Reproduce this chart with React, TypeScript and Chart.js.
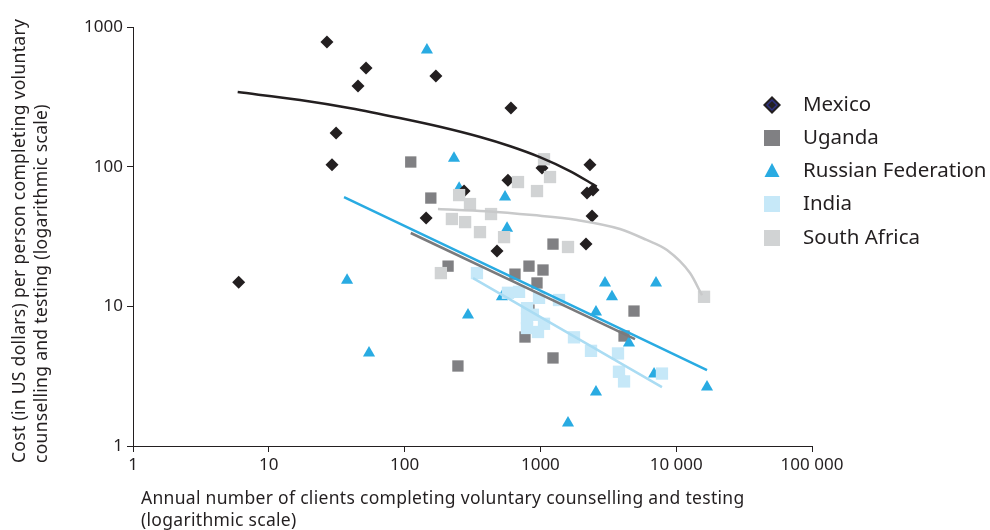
import React, { useEffect, useRef } from "react";
import { Chart, registerables } from "chart.js";

Chart.register(...registerables);

// ---------- data ----------
const xTickValues = [1, 10, 100, 1000, 10000, 100000];
const xTickLabels = ["1", "10", "100", "1000", "10 000", "100 000"];
const yTickValues = [1, 10, 100, 1000];
const yTickLabels = ["1", "10", "100", "1000"];

const seriesNames = ["Mexico", "Uganda", "Russian Federation", "India", "South Africa"];

const mexicoClients = [26.8, 52, 45.4, 170, 31.3, 29.2, 6.0, 607, 2317, 1028, 577, 2203, 2440, 274, 144, 2400, 479, 2167];
const mexicoCost = [780, 508, 378, 445, 174, 103, 14.9, 263, 103, 97.7, 80, 64.7, 68, 66.9, 42.9, 44.3, 24.9, 27.9];

const ugandaClients = [111, 156, 209, 247, 1238, 824, 1045, 650, 944, 824, 770, 1238, 4890, 4130];
const ugandaCost = [108, 59.6, 19.4, 3.74, 27.9, 19.4, 18.2, 17.0, 14.7, 9.4, 6.03, 4.27, 9.25, 6.13];

const russiaClients = [146, 231, 252, 549, 568, 37.7, 54.7, 293, 521, 2990, 7100, 3366, 2566, 4490, 6870, 16860, 2566, 1597, 3855];
const russiaCost = [684, 115, 70, 60.6, 36.3, 15.4, 4.63, 8.67, 11.7, 14.7, 14.7, 11.7, 9.1, 5.46, 3.28, 2.64, 2.44, 1.46, 3.3];

const indiaClients = [341, 577, 696, 977, 1371, 797, 797, 797, 881, 1063, 960, 1767, 2358, 3727, 3790, 4130, 7855];
const indiaCost = [17.3, 12.5, 12.7, 11.5, 11.1, 9.7, 8.2, 7.0, 8.7, 7.5, 6.55, 6.0, 4.8, 4.6, 3.4, 2.9, 3.3];

const southAfricaClients = [1063, 1177, 684, 944, 252, 303, 433, 223, 279, 359, 540, 1597, 185, 16030];
const southAfricaCost = [113, 84.3, 77.6, 66.9, 62.6, 54, 45.8, 42.2, 40.1, 34.0, 31.3, 26.6, 17.3, 11.7];

// trend lines
const mexicoTrendClients = [5.9, 17, 40, 92, 182, 360, 600, 990, 1650, 2600];
const mexicoTrendCost = [342, 300, 262, 223, 193, 163, 140, 117, 93, 72];

const southAfricaTrendClients = [176, 400, 881, 1862, 3855, 6000, 8555, 12640, 15490];
const southAfricaTrendCost = [49.7, 48, 45, 41.5, 35.8, 30, 25.3, 17.3, 12];

const russiaTrendClients = [35.8, 16860];
const russiaTrendCost = [60.6, 3.5];

const ugandaTrendClients = [111, 4975];
const ugandaTrendCost = [33.5, 5.83];

const indiaTrendClients = [319, 7855];
const indiaTrendCost = [15.9, 2.64];

const xTitleLines = [
  "Annual number of clients completing voluntary counselling and testing",
  "(logarithmic scale)",
];
const yTitleLines = [
  "Cost (in US dollars) per person completing voluntary",
  "counselling and testing (logarithmic scale)",
];

// ---------- styles ----------
const FONT = "'Noto Sans', 'Open Sans', sans-serif";
const TEXT = "#231f20";
const C_MEX = "#231f20";
const C_UGA = "#808083";
const C_RUS = "#29abe2";
const C_IND = "#c6e8f8";
const C_SA = "#d1d3d4";
const L_SA = "#c8c9ca";
const L_IND = "#aadcf3";
const L_UGA = "#7a7a7c";

const zip = (xs: number[], ys: number[]) => xs.map((x, i) => ({ x, y: ys[i] }));

const drawDiamond = (ctx: CanvasRenderingContext2D, x: number, y: number, r: number) => {
  ctx.beginPath();
  ctx.moveTo(x, y - r);
  ctx.lineTo(x + r, y);
  ctx.lineTo(x, y + r);
  ctx.lineTo(x - r, y);
  ctx.closePath();
};

const overlayPlugin = {
  id: "overlay",
  afterDraw(chart: any) {
    const ctx: any = chart.ctx;
    ctx.save();
    ctx.fillStyle = TEXT;
    ctx.font = `17.5px ${FONT}`;
    ctx.letterSpacing = "0.3px";
    ctx.textAlign = "left";
    ctx.textBaseline = "middle";
    xTitleLines.forEach((l, i) => ctx.fillText(l, 141, 499 + i * 22));

    ctx.save();
    ctx.translate(20, 463);
    ctx.rotate(-Math.PI / 2);
    yTitleLines.forEach((l, i) => ctx.fillText(l, 0, i * 22));
    ctx.restore();

    // legend
    const lx = 772;
    const tx = 803;
    const rows = [105, 138, 171, 204, 238];
    ctx.letterSpacing = "0px";
    ctx.font = `20.5px ${FONT}`;
    seriesNames.forEach((name, i) => {
      const y = rows[i];
      ctx.fillStyle = TEXT;
      ctx.fillText(name, tx, y);
      if (i === 0) {
        ctx.fillStyle = C_MEX;
        drawDiamond(ctx, lx, y, 9);
        ctx.fill();
        ctx.strokeStyle = "#2e3180";
        ctx.lineWidth = 1.5;
        drawDiamond(ctx, lx, y, 5);
        ctx.stroke();
      } else if (i === 2) {
        ctx.fillStyle = C_RUS;
        ctx.beginPath();
        ctx.moveTo(lx, y - 8);
        ctx.lineTo(lx + 7.5, y + 6);
        ctx.lineTo(lx - 7.5, y + 6);
        ctx.closePath();
        ctx.fill();
      } else {
        ctx.fillStyle = i === 1 ? C_UGA : i === 3 ? C_IND : C_SA;
        ctx.fillRect(lx - 8, y - 8, 16, 16);
      }
    });
    ctx.restore();
  },
};

export default function App() {
  const ref = useRef<HTMLCanvasElement>(null);

  useEffect(() => {
    if (!ref.current) return;
    const pointSet = (label: string, xs: number[], ys: number[], color: string, style: string, radius: number, order: number) => ({
      label,
      data: zip(xs, ys),
      showLine: false,
      pointStyle: style,
      pointRadius: radius,
      pointHoverRadius: radius,
      pointBackgroundColor: color,
      pointBorderColor: color,
      pointBorderWidth: 0,
      backgroundColor: color,
      borderColor: color,
      order,
    });
    const lineSet = (label: string, xs: number[], ys: number[], color: string, width: number) => ({
      label,
      data: zip(xs, ys),
      showLine: true,
      pointRadius: 0,
      pointHoverRadius: 0,
      borderColor: color,
      backgroundColor: color,
      borderWidth: width,
      cubicInterpolationMode: "monotone",
      fill: false,
      order: 0,
    });

    const chart = new Chart(ref.current, {
      type: "scatter",
      data: {
        datasets: [
          pointSet(seriesNames[4], southAfricaClients, southAfricaCost, C_SA, "rect", 8.7, 1),
          pointSet(seriesNames[3], indiaClients, indiaCost, C_IND, "rect", 8.7, 2),
          pointSet(seriesNames[0], mexicoClients, mexicoCost, C_MEX, "rectRot", 6.5, 3),
          pointSet(seriesNames[2], russiaClients, russiaCost, C_RUS, "triangle", 7, 4),
          pointSet(seriesNames[1], ugandaClients, ugandaCost, C_UGA, "rect", 8, 5),
          lineSet("Mexico trend", mexicoTrendClients, mexicoTrendCost, C_MEX, 2.5),
          lineSet("South Africa trend", southAfricaTrendClients, southAfricaTrendCost, L_SA, 2.5),
          lineSet("Uganda trend", ugandaTrendClients, ugandaTrendCost, L_UGA, 2.5),
          lineSet("Russian Federation trend", russiaTrendClients, russiaTrendCost, C_RUS, 2.5),
          lineSet("India trend", indiaTrendClients, indiaTrendCost, L_IND, 2.5),
        ] as any,
      },
      options: {
        animation: false,
        responsive: false,
        devicePixelRatio: 1,
        events: [],
        layout: { padding: { left: 0, top: 27, right: 178, bottom: 0 } },
        plugins: {
          legend: { display: false },
          tooltip: { enabled: false },
        },
        scales: {
          x: {
            type: "logarithmic",
            min: 1,
            max: 100000,
            afterBuildTicks: (s: any) => {
              s.ticks = xTickValues.map((v) => ({ value: v }));
            },
            afterFit: (s: any) => {
              s.height = 84;
            },
            ticks: {
              autoSkip: false,
              maxRotation: 0,
              minRotation: 0,
              padding: 3,
              color: TEXT,
              font: { family: FONT, size: 17 },
              callback: (v: any) => {
                const i = xTickValues.indexOf(Number(v));
                return i >= 0 ? xTickLabels[i] : "";
              },
            },
            grid: {
              display: true,
              drawOnChartArea: false,
              drawTicks: true,
              tickLength: 6,
              color: TEXT,
              lineWidth: 1,
            },
            border: { display: true, color: TEXT, width: 1 },
          },
          y: {
            type: "logarithmic",
            min: 1,
            max: 1000,
            afterBuildTicks: (s: any) => {
              s.ticks = yTickValues.map((v) => ({ value: v }));
            },
            afterFit: (s: any) => {
              s.width = 133;
            },
            ticks: {
              autoSkip: false,
              padding: 4,
              color: TEXT,
              font: { family: FONT, size: 17 },
              callback: (v: any) => {
                const i = yTickValues.indexOf(Number(v));
                return i >= 0 ? yTickLabels[i] : "";
              },
            },
            grid: {
              display: true,
              drawOnChartArea: false,
              drawTicks: true,
              tickLength: 6,
              color: TEXT,
              lineWidth: 1,
            },
            border: { display: true, color: TEXT, width: 1 },
          },
        },
      } as any,
      plugins: [overlayPlugin],
    });
    return () => chart.destroy();
  }, []);

  return (
    <div style={{ position: "absolute", left: 0, top: 0, width: 990, height: 530, background: "#fff" }}>
      <canvas ref={ref} width={990} height={530} style={{ width: 990, height: 530, display: "block" }} />
    </div>
  );
}
